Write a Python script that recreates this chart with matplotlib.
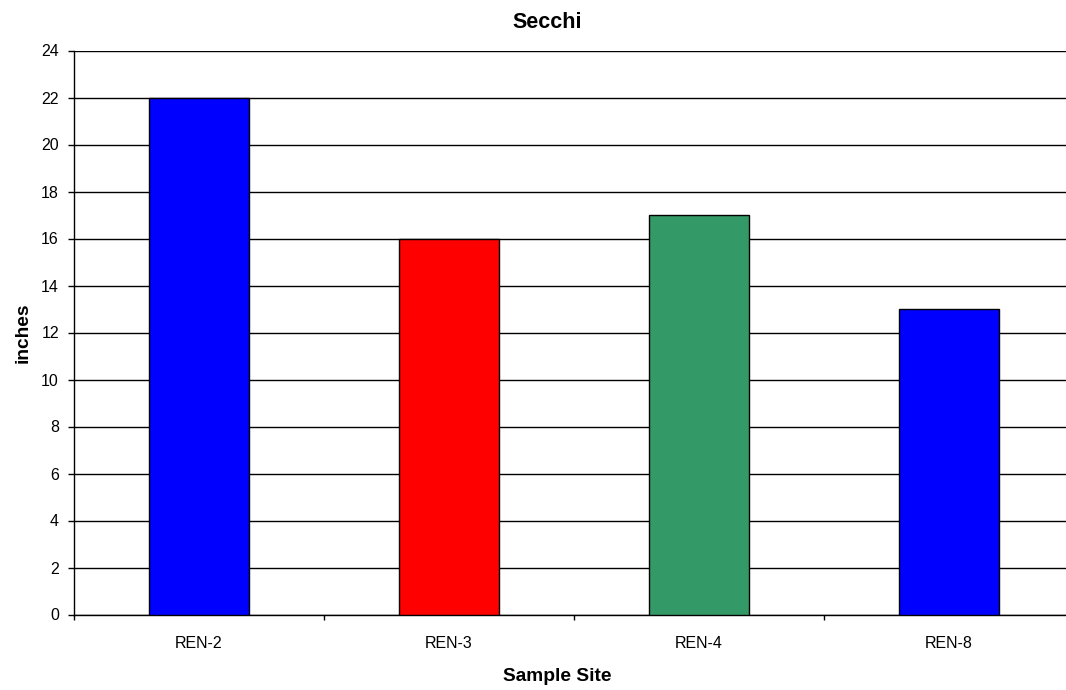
import numpy as np
import matplotlib
matplotlib.use("Agg")
import matplotlib.pyplot as plt

plt.rcParams['font.family'] = ['Liberation Sans', 'DejaVu Sans']

sites = ["REN-2", "REN-3", "REN-4", "REN-8"]
secchi = [22, 16, 17, 13]
bar_colors = ["#0000FF", "#FF0000", "#339966", "#0000FF"]

W, H = 1066, 690
fig = plt.figure(figsize=(W / 100, H / 100), dpi=100)
# plot area runs a bit past the right edge, like the original export
ax = fig.add_axes([74 / W, 75.5 / H, 1000 / W, 564 / H])

x = np.arange(len(sites))
ax.bar(x, secchi, width=0.4, color=bar_colors, edgecolor="black", linewidth=1, zorder=3)

ax.set_xlim(-0.5, len(sites) - 0.5)
ax.set_ylim(0, 24)
ax.set_yticks(np.arange(0, 25, 2))
ax.yaxis.grid(True, color="black", linewidth=1)
ax.set_axisbelow(True)

ax.set_xticks(x)
ax.set_xticklabels(sites)
ax.set_xticks(np.arange(-0.5, len(sites), 1.0), minor=True)
ax.tick_params(axis="x", which="major", length=0, pad=15.5, labelsize=11.5)
ax.tick_params(axis="x", which="minor", length=3.6, direction="out", width=1)
ax.tick_params(axis="y", length=4.3, width=1, labelsize=11.5, pad=6.5)

for s in ["top", "right"]:
    ax.spines[s].set_visible(False)
ax.spines["left"].set_linewidth(1)
ax.spines["bottom"].set_linewidth(1)

# titles placed on the figure (chart-area centred, as in the source)
fig.text(547 / W, 1 - 28.5 / H, "Secchi", fontsize=15.5, fontweight="bold",
         ha="center", va="baseline")
fig.text(557.5 / W, 1 - 681 / H, "Sample Site", fontsize=13.8, fontweight="bold",
         ha="center", va="baseline")
fig.text(32 / W, 1 - 333 / H, "inches", fontsize=13.8, fontweight="bold",
         rotation=90, ha="right", va="center")

fig.savefig("out.png", dpi=100)
